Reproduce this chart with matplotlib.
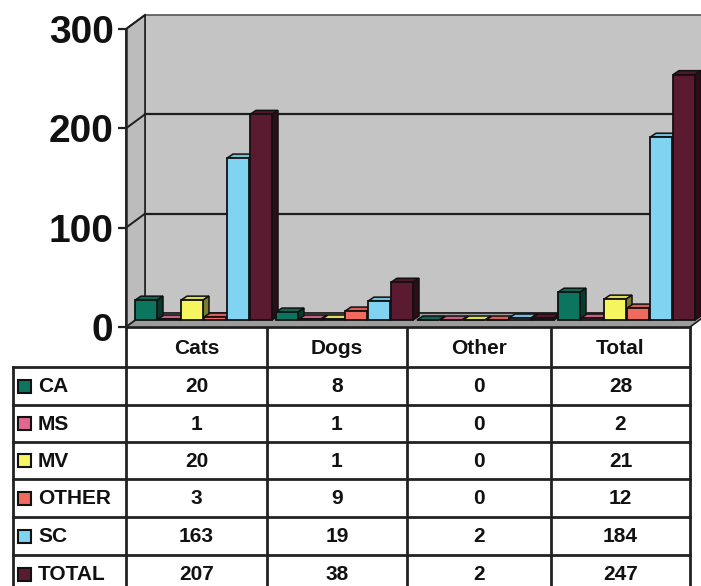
import matplotlib.pyplot as plt
from matplotlib.patches import Polygon, Rectangle
import numpy as np

categories = ["Cats", "Dogs", "Other", "Total"]
series_names = ["CA", "MS", "MV", "OTHER", "SC", "TOTAL"]
ca = [20, 8, 0, 28]
ms = [1, 1, 0, 2]
mv = [20, 1, 0, 21]
other = [3, 9, 0, 12]
sc = [163, 19, 2, 184]
total = [207, 38, 2, 247]
yticks = [0, 100, 200, 300]

series_values = [ca, ms, mv, other, sc, total]
colors = ["#0b7560", "#e06890", "#f5f560", "#f06a60", "#80d4f2", "#5a1a30"]

FONT = "Liberation Sans"
W, H = 701, 586

# pixel helpers (chart area is 141 px per category, 298 px per 300 units)
PX_X = 141.0
PX_Y = 298.0 / 300.0


def dx(px):
    return px / PX_X


def dy(px):
    return px / PX_Y


def shade(c, f):
    r, g, b = plt.matplotlib.colors.to_rgb(c)
    return (r * f, g * f, b * f)


fig = plt.figure(figsize=(W / 100, H / 100), dpi=100)

# overlay in pixel coords for the data table
tab = fig.add_axes([0, 0, 1, 1])
tab.set_xlim(0, W)
tab.set_ylim(H, 0)
tab.axis("off")

ax = fig.add_axes([126 / W, (H - 327) / H, 564 / W, 298 / H])
ax.set_xlim(0, 4)
ax.set_ylim(0, 300)
ax.patch.set_visible(False)
for s in ["top", "right", "bottom"]:
    ax.spines[s].set_visible(False)
ax.spines["left"].set_linewidth(1.8)
ax.spines["left"].set_color("#222222")
ax.spines["left"].set_zorder(6)

# 3d walls
wx, wy = dx(19), dy(14)
line_c = "#1e1e1e"
back = Polygon([(wx, wy), (4 + wx, wy), (4 + wx, 300 + wy), (wx, 300 + wy)],
               closed=True, facecolor="#c4c4c4", edgecolor="#555555", lw=1.2,
               clip_on=False, zorder=0)
side = Polygon([(0, 0), (wx, wy), (wx, 300 + wy), (0, 300)], closed=True,
               facecolor="#bcbcbc", edgecolor=line_c, lw=1.2, clip_on=False, zorder=0)
floor = Polygon([(0, 0), (4, 0), (4 + wx, wy), (wx, wy)], closed=True,
                facecolor="#9c9c9c", edgecolor=line_c, lw=1.2, clip_on=False, zorder=1)
ax.add_patch(back)
ax.add_patch(side)
ax.add_patch(floor)
for v in yticks[1:3]:
    ax.plot([wx, 4 + wx], [v + wy, v + wy], color=line_c, lw=1.6, clip_on=False, zorder=1)
    ax.plot([0, wx], [v, v + wy], color=line_c, lw=1.4, clip_on=False, zorder=1)
ax.plot([0, wx], [300, 300 + wy], color=line_c, lw=1.4, clip_on=False, zorder=1)

# bars with 3d faces
bx0, by0 = dx(9), dy(7)
step, bw = dx(23), dx(22)
ddx, ddy = dx(6), dy(4)
z = 3
for ci in range(len(categories)):
    for k, vals in enumerate(series_values):
        x0 = ci + bx0 + k * step
        v = vals[ci]
        c = colors[k]
        ax.bar(x0, v, width=bw, bottom=by0, align="edge", color=c,
               edgecolor="#111111", lw=1.3, zorder=z + 1, clip_on=False)
        top = by0 + v
        ax.add_patch(Polygon([(x0, top), (x0 + bw, top), (x0 + bw + ddx, top + ddy),
                              (x0 + ddx, top + ddy)], closed=True,
                             facecolor=shade(c, 0.9), edgecolor="#111111", lw=1.1,
                             zorder=z, clip_on=False))
        ax.add_patch(Polygon([(x0 + bw, by0), (x0 + bw + ddx, by0 + ddy),
                              (x0 + bw + ddx, top + ddy), (x0 + bw, top)], closed=True,
                             facecolor=shade(c, 0.5), edgecolor="#111111", lw=1.1,
                             zorder=z, clip_on=False))
        z += 2

ax.set_xticks([])
ax.set_yticks(yticks)
ax.set_yticklabels([str(v) for v in yticks], fontsize=28, fontweight="bold",
                   family=FONT, color="#111111")
ax.tick_params(axis="y", length=6, width=1.6, pad=3, color="#222222")

# data table
col_x = [126, 267, 407, 551, 690]
lab_x = 13
row_y = [327, 367, 405, 442, 479, 517, 555]
tc = "#222222"
for x in col_x:
    tab.plot([x, x], [327, H + 5], color=tc, lw=2)
tab.plot([lab_x, lab_x], [row_y[1], H + 5], color=tc, lw=2)
tab.plot([col_x[0], col_x[-1]], [327, 327], color=tc, lw=2)
for y in row_y[1:]:
    tab.plot([lab_x, col_x[-1]], [y, y], color=tc, lw=2)

txt = dict(fontsize=15, fontweight="bold", family=FONT, color="#111111")
for i, cat in enumerate(categories):
    xc = (col_x[i] + col_x[i + 1]) / 2
    tab.text(xc, (row_y[0] + row_y[1]) / 2 + 1, cat, ha="center", va="center", **txt)
for r, (name, vals) in enumerate(zip(series_names, series_values)):
    y0 = row_y[r + 1]
    y1 = row_y[r + 2] if r + 2 < len(row_y) else y0 + 38
    ym = (y0 + y1) / 2
    tab.add_patch(Rectangle((18, ym - 6.5), 13, 13, facecolor=colors[r],
                            edgecolor="#111111", lw=1.5))
    tab.text(38, ym + 1, name, ha="left", va="center", **txt)
    for i, v in enumerate(vals):
        xc = (col_x[i] + col_x[i + 1]) / 2
        tab.text(xc, ym + 1, str(v), ha="center", va="center", **txt)

fig.savefig("out.png", dpi=100)
